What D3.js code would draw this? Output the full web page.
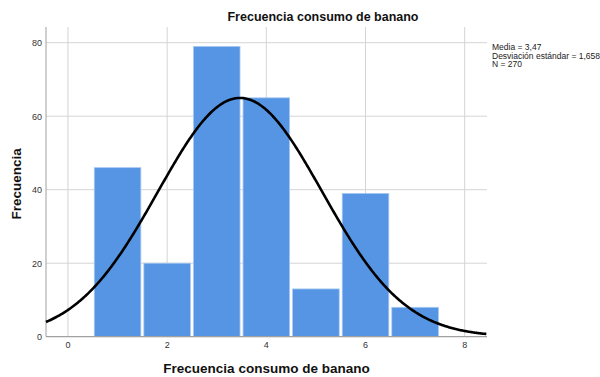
<!DOCTYPE html>
<html><head><meta charset="utf-8">
<script src="https://cdn.jsdelivr.net/npm/d3@7"></script>
<style>body{margin:0;background:#fff}svg{display:block;font-family:Arial,"Liberation Sans",sans-serif}</style>
</head><body>
<svg id="c" width="600" height="377"></svg>
<script>
const binCenters = [1, 2, 3, 4, 5, 6, 7];
const counts = [46, 20, 79, 65, 13, 39, 8];
const xTicks = [0, 2, 4, 6, 8];
const yTicks = [0, 20, 40, 60, 80];
const mean = 3.47, sd = 1.658, n = 270, binWidth = 1;
const title = "Frecuencia consumo de banano";
const xLabel = "Frecuencia consumo de banano";
const yLabel = "Frecuencia";
const legendLines = ["Media = 3,47", "Desviación estándar = 1,658", "N = 270"];

const svg = d3.select("#c");
const L = 46, R = 487, T = 27, B = 336.7;
const x = d3.scaleLinear().domain([-0.443, 8.45]).range([L, R]);
const y = d3.scaleLinear().domain([0, 80]).range([B, 42.7]);

// gridlines
svg.append("g").selectAll("line").data(xTicks).join("line")
  .attr("x1", d => x(d)).attr("x2", d => x(d)).attr("y1", T).attr("y2", B)
  .attr("stroke", "#d4d4d4").attr("stroke-width", 1);
svg.append("g").selectAll("line").data(yTicks.filter(d => d > 0)).join("line")
  .attr("x1", L).attr("x2", R).attr("y1", d => y(d)).attr("y2", d => y(d))
  .attr("stroke", "#d4d4d4").attr("stroke-width", 1);

// bars
svg.append("g").selectAll("rect").data(binCenters).join("rect")
  .attr("x", d => x(d - binWidth / 2) + 1.5)
  .attr("width", d => x(d + binWidth / 2) - x(d - binWidth / 2) - 3)
  .attr("y", (d, i) => y(counts[i]))
  .attr("height", (d, i) => B - y(counts[i]))
  .attr("fill", "#5694e4").attr("stroke", "#a9c9f1").attr("stroke-width", 0.8);

// axes lines
svg.append("line").attr("x1", L).attr("x2", L).attr("y1", T).attr("y2", B)
  .attr("stroke", "#a0a0a0").attr("stroke-width", 1);
svg.append("line").attr("x1", L).attr("x2", R).attr("y1", B).attr("y2", B)
  .attr("stroke", "#a0a0a0").attr("stroke-width", 1.2);

// tick labels
svg.append("g").selectAll("text").data(yTicks).join("text")
  .attr("x", L - 4).attr("y", d => y(d) + 3.5).attr("text-anchor", "end")
  .attr("font-size", 9).attr("fill", "#333").text(d => d);
svg.append("g").selectAll("text").data(xTicks).join("text")
  .attr("x", d => x(d)).attr("y", B + 11.5).attr("text-anchor", "middle")
  .attr("font-size", 9).attr("fill", "#333").text(d => d);

// normal curve
const pdf = v => n * binWidth / (sd * Math.sqrt(2 * Math.PI)) * Math.exp(-0.5 * ((v - mean) / sd) ** 2);
const xs = d3.range(-0.443, 8.45 + 1e-9, 0.02);
svg.append("path").datum(xs)
  .attr("d", d3.line().x(d => x(d)).y(d => y(pdf(d))).curve(d3.curveLinear))
  .attr("fill", "none").attr("stroke", "#000").attr("stroke-width", 2.6);

// titles
svg.append("text").attr("x", 323).attr("y", 21).attr("text-anchor", "middle")
  .attr("font-size", 12.5).attr("font-weight", "bold").attr("fill", "#111").text(title);
svg.append("text").attr("x", (L + R) / 2).attr("y", 373).attr("text-anchor", "middle")
  .attr("font-size", 13.5).attr("font-weight", "bold").attr("fill", "#111").text(xLabel);
svg.append("text").attr("transform", `translate(21,${(T + B) / 2 + 2}) rotate(-90)`)
  .attr("text-anchor", "middle").attr("font-size", 13.5).attr("font-weight", "bold")
  .attr("fill", "#111").text(yLabel);

// legend
svg.append("g").selectAll("text").data(legendLines).join("text")
  .attr("x", 492).attr("y", (d, i) => 50 + i * 8.5)
  .attr("font-size", 8.5).attr("fill", "#222").text(d => d);
</script>
</body></html>
